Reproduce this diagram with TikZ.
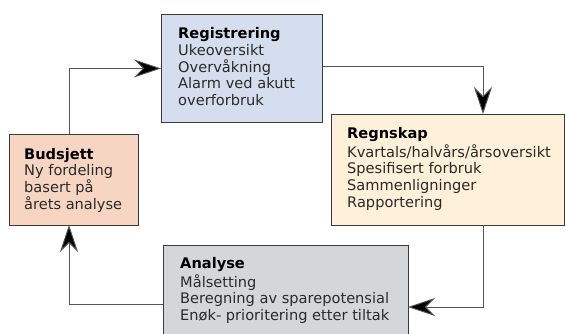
\documentclass[tikz,border=0pt]{standalone}
\usepackage{fontspec}
\setmainfont{DejaVu Sans}
\usetikzlibrary{arrows.meta}
\definecolor{regfill}{HTML}{D5DEEE}
\definecolor{regnfill}{HTML}{FEF0D9}
\definecolor{budfill}{HTML}{F6D6C3}
\definecolor{anafill}{HTML}{D5D6D8}
\definecolor{boxline}{HTML}{3A3A3A}
\definecolor{conline}{HTML}{555555}
\definecolor{bodytext}{HTML}{2A2A2A}
\tikzset{
  box/.style={draw=boxline, line width=0.9pt, inner sep=0pt, anchor=north west},
  label/.style={anchor=north west, inner sep=0pt, align=left, text=bodytext,
    font=\fontsize{14.6}{16.7}\selectfont},
  conn/.style={draw=conline, line width=0.9pt,
    -{Stealth[length=27pt, width=18pt, inset=9pt, fill=black]}},
}
\begin{document}
\begin{tikzpicture}[x=1pt, y=-1pt]
\clip (0,0) rectangle (566,333);
\fill[white] (0,0) rectangle (566,333);
% boxes
\node[box, fill=regfill, minimum width=161pt, minimum height=108pt] (reg) at (161,14) {};
\node[box, fill=regnfill, minimum width=233pt, minimum height=111pt] (regn) at (331,114) {};
\node[box, fill=budfill, minimum width=129pt, minimum height=91pt] (bud) at (9,134) {};
\node[box, fill=anafill, minimum width=245pt, minimum height=100pt] (ana) at (163,245) {};
% texts
\node[label] (regt) at ([shift={(17,12.8)}]reg.north west) {\strut\textcolor{black}{\bfseries Registrering}\\Ukeoversikt\\Overvåkning\\Alarm ved akutt\\overforbruk};
\node[label] (regnt) at ([shift={(16,12.3)}]regn.north west) {\strut\textcolor{black}{\bfseries Regnskap}\\Kvartals/halvårs/årsoversikt\\Spesifisert forbruk\\Sammenligninger\\Rapportering};
\node[label] (budt) at ([shift={(15,13.3)}]bud.north west) {\strut\textcolor{black}{\bfseries Budsjett}\\Ny fordeling\\basert på\\årets analyse};
\node[label] (anat) at ([shift={(17,11.3)}]ana.north west) {\strut\textcolor{black}{\bfseries Analyse}\\Målsetting\\Beregning av sparepotensial\\Enøk- prioritering etter tiltak};
% connector bends
\coordinate (budtop) at (69,134);
\coordinate (regnin) at (483,114);
\coordinate (regnout) at (483,225);
\coordinate (anain) at (408,307);
\coordinate (anaout) at (163,304);
\coordinate (budbot) at (69,225);
\draw[conn] (budtop) |- (reg.west);
\draw[conn] ([yshift=2.5]reg.east) -| (regnin);
\draw[conn] (regnout) |- (anain);
\draw[conn] (anaout) -| (budbot);
\end{tikzpicture}
\end{document}
